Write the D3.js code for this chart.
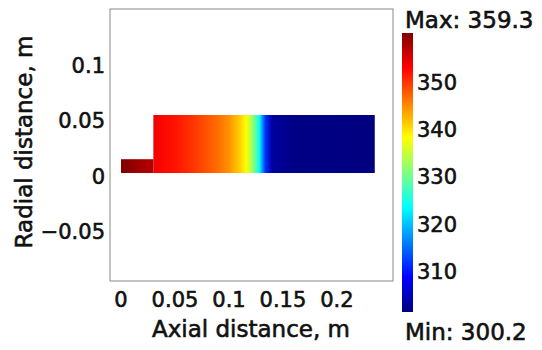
<!DOCTYPE html>
<html>
<head>
<meta charset="utf-8">
<script src="https://cdn.jsdelivr.net/npm/d3@7"></script>
<style>
  body { margin: 0; background: #fff; }
  text { font-family: "DejaVu Sans", sans-serif; fill: #111; stroke: #111; stroke-width: 0.6px; }
</style>
</head>
<body>
<svg id="chart" width="542" height="350"></svg>
<script>
// temperature profile along the axis (m, value)
const axialPos = [0, 0.03, 0.031, 0.05, 0.07, 0.09, 0.1, 0.11, 0.116, 0.122, 0.128, 0.134, 0.14, 0.16, 0.235];
const temps = [359.3, 356, 352.5, 350.8, 348.5, 345.5, 343.5, 340, 337, 331, 323, 310, 302, 300.6, 300.2];

// geometry: [axial start, axial end, radius]
const inlet = [0, 0.03, 0.0125];
const body = [0.03, 0.235, 0.0525];

const xTicks = [0, 0.05, 0.1, 0.15, 0.2];
const yTicks = [-0.05, 0, 0.05, 0.1];
const cbTicks = [310, 320, 330, 340, 350];
const tMin = 300.2, tMax = 359.3;

const svg = d3.select("#chart");

// plot frame 110..393 x 9..281
const x = d3.scaleLinear().domain([-0.0102, 0.2519]).range([110, 393]);
const y = d3.scaleLinear().domain([-0.0977, 0.1484]).range([281, 9]);

// jet colormap
const jetT = [0, 0.125, 0.375, 0.625, 0.875, 1];
const jetC = ["#00007f", "#0000ff", "#00ffff", "#ffff00", "#ff0000", "#7f0000"];
const jet = d3.scaleLinear()
    .domain(jetT.map(t => tMin + t * (tMax - tMin)))
    .range(jetC)
    .clamp(true);

const defs = svg.append("defs");

const field = defs.append("linearGradient")
    .attr("id", "field")
    .attr("gradientUnits", "userSpaceOnUse")
    .attr("x1", x(0)).attr("x2", x(body[1]))
    .attr("y1", 0).attr("y2", 0);
field.selectAll("stop").data(axialPos).enter().append("stop")
    .attr("offset", d => d / body[1])
    .attr("stop-color", (d, i) => jet(temps[i]));

svg.append("rect")
    .attr("x", 110).attr("y", 9)
    .attr("width", 283).attr("height", 272)
    .attr("fill", "#fff")
    .attr("stroke", "#8a8a8a");

[inlet, body].forEach(g => {
    svg.append("rect")
        .attr("x", x(g[0]))
        .attr("y", y(g[2]))
        .attr("width", x(g[1]) - x(g[0]))
        .attr("height", y(0) - y(g[2]))
        .attr("fill", "url(#field)");
});

// tick labels
svg.selectAll(".xt").data(xTicks).enter().append("text")
    .attr("x", d => x(d)).attr("y", 307)
    .attr("text-anchor", "middle")
    .style("font-size", "21px")
    .text(d => d3.format("")(d));

svg.selectAll(".yt").data(yTicks).enter().append("text")
    .attr("x", 105).attr("y", d => y(d) + 10.5)
    .attr("text-anchor", "end")
    .style("font-size", "21px")
    .text(d => d < 0 ? "\u2212" + Math.abs(d) : d);

svg.append("text")
    .attr("x", 251).attr("y", 337)
    .attr("text-anchor", "middle")
    .style("font-size", "23px")
    .text("Axial distance, m");

svg.append("text")
    .attr("transform", "translate(32,142) rotate(-90)")
    .attr("text-anchor", "middle")
    .style("font-size", "23px")
    .text("Radial distance, m");

// colorbar
const cb = d3.scaleLinear().domain([tMin, tMax]).range([312, 33]);
const cbGrad = defs.append("linearGradient")
    .attr("id", "cb")
    .attr("x1", 0).attr("x2", 0).attr("y1", 1).attr("y2", 0);
cbGrad.selectAll("stop").data(jetT).enter().append("stop")
    .attr("offset", d => d)
    .attr("stop-color", (d, i) => jetC[i]);

svg.append("rect")
    .attr("x", 402).attr("y", cb(tMax))
    .attr("width", 11).attr("height", cb(tMin) - cb(tMax))
    .attr("fill", "url(#cb)");

svg.selectAll(".ct").data(cbTicks).enter().append("text")
    .attr("x", 417).attr("y", d => cb(d) + 13)
    .style("font-size", "21px")
    .text(d => d);

svg.append("text")
    .attr("x", 405).attr("y", 28)
    .style("font-size", "23px")
    .text("Max: " + tMax);

svg.append("text")
    .attr("x", 405).attr("y", 340)
    .style("font-size", "23px")
    .text("Min: " + tMin);
</script>
</body>
</html>
